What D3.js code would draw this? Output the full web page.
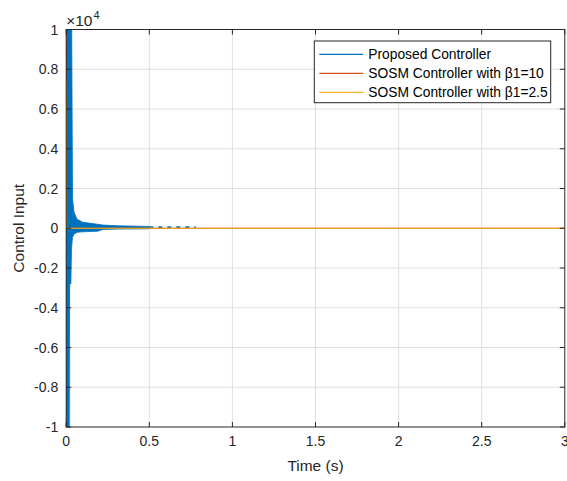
<!DOCTYPE html>
<html>
<head>
<meta charset="utf-8">
<script src="https://cdn.jsdelivr.net/npm/d3@7"></script>
<style>
  body { margin: 0; background: #fff; }
  svg { font-family: "Liberation Sans", Arial, Helvetica, sans-serif; }
</style>
</head>
<body>
<svg id="chart" width="567" height="481"></svg>
<script>
// values in units of 1e4
const xTicks = [0, 0.5, 1, 1.5, 2, 2.5, 3];
const xTickLabels = ["0", "0.5", "1", "1.5", "2", "2.5", "3"];
const yTicks = [-1, -0.8, -0.6, -0.4, -0.2, 0, 0.2, 0.4, 0.6, 0.8, 1];
const yTickLabels = ["-1", "-0.8", "-0.6", "-0.4", "-0.2", "0", "0.2", "0.4", "0.6", "0.8", "1"];

// proposed controller: chattering band, upper / lower envelope
const blueT     = [0,    0.016, 0.02,  0.028, 0.032, 0.038, 0.047, 0.065, 0.10,  0.19,  0.22,   0.32,  0.50];
const blueUpper = [1.2,  1.2,   1.2,   1.2,   1.2,   0.15,  0.08,  0.045, 0.03,  0.02,  0.016,  0.012, 0.009];
const blueLower = [-1.2, -1.2,  -0.28, -0.28, -0.1,  -0.045,-0.03, -0.02, -0.018,-0.015,-0.006, -0.004,-0.003];
// a thinner spike part that still reaches the limits
const blueSpikeT     = [0.004, 0.016];
const blueSpikeLower = [-1.2, -1.2];
// lighter (sparser) edge of the spike
const blueFaintT = [0.018, 0.024];
const blueFaintV = [-1.2, 1.2];
// dashed remnant of the chattering
const blueTailT = [0.5, 0.78];
const blueTailV = [0.005, 0.005];

// SOSM controllers: fast drop at t = 0, then flat at zero
const redT = [0, 0.002, 3];
const redV = [2, 0, 0];
const yellowT = [0, 0.002, 3];
const yellowV = [0.75, 0, 0];

const legendNames = ["Proposed Controller", "SOSM Controller with \u03b21=10", "SOSM Controller with \u03b21=2.5"];
const colors = ["#0072BD", "#D95319", "#EDB120"];

const svg = d3.select("#chart");
const pLeft = 66.2, pRight = 564.8, pTop = 29.5, pBottom = 427;
const x = d3.scaleLinear().domain([0, 3]).range([pLeft, pRight]);
const y = d3.scaleLinear().domain([-1, 1]).range([pBottom, pTop]);
const axisColor = "#262626";

svg.append("defs").append("clipPath").attr("id", "clip")
  .append("rect").attr("x", pLeft).attr("y", pTop)
  .attr("width", pRight - pLeft).attr("height", pBottom - pTop);

// grid
const grid = svg.append("g").attr("stroke", "#dfdfdf").attr("stroke-width", 1);
xTicks.slice(1, -1).forEach(t => {
  grid.append("line").attr("x1", x(t)).attr("x2", x(t)).attr("y1", pTop).attr("y2", pBottom);
});
yTicks.slice(1, -1).forEach(t => {
  grid.append("line").attr("x1", pLeft).attr("x2", pRight).attr("y1", y(t)).attr("y2", y(t));
});

const plot = svg.append("g").attr("clip-path", "url(#clip)");

// blue band
plot.append("rect")
  .attr("x", x(blueFaintT[0])).attr("width", x(blueFaintT[1]) - x(blueFaintT[0]))
  .attr("y", y(blueFaintV[1])).attr("height", y(blueFaintV[0]) - y(blueFaintV[1]))
  .attr("fill", "#6aa9d8");

const blueData = blueT.map((t, i) => ({t: t, hi: blueUpper[i], lo: blueLower[i]}));
plot.append("path")
  .datum(blueData)
  .attr("fill", colors[0])
  .attr("stroke", colors[0])
  .attr("stroke-width", 0.8)
  .attr("d", d3.area().x(d => x(d.t)).y0(d => y(d.lo)).y1(d => y(d.hi)));

plot.append("rect")
  .attr("x", x(blueSpikeT[0])).attr("width", x(blueSpikeT[1]) - x(blueSpikeT[0]))
  .attr("y", y(0)).attr("height", y(blueSpikeLower[0]) - y(0))
  .attr("fill", colors[0]);

plot.append("path")
  .datum(blueTailT.map((t, i) => [t, blueTailV[i]]))
  .attr("fill", "none")
  .attr("stroke", colors[0])
  .attr("stroke-width", 2)
  .attr("stroke-dasharray", "4,5")
  .attr("d", d3.line().x(d => x(d[0])).y(d => y(d[1])));

const line = d3.line().x(d => x(d[0])).y(d => y(d[1]));
plot.append("path")
  .datum(redT.map((t, i) => [t, redV[i]]))
  .attr("fill", "none").attr("stroke", colors[1]).attr("stroke-width", 1.2)
  .attr("d", line);
plot.append("path")
  .datum(yellowT.map((t, i) => [t, yellowV[i]]))
  .attr("fill", "none").attr("stroke", colors[2]).attr("stroke-width", 1.2)
  .attr("d", line);

// box + ticks
const ax = svg.append("g").attr("stroke", axisColor).attr("stroke-width", 1);
ax.append("rect").attr("x", pLeft).attr("y", pTop)
  .attr("width", pRight - pLeft).attr("height", pBottom - pTop).attr("fill", "none");
const tl = 5;
xTicks.forEach(t => {
  ax.append("line").attr("x1", x(t)).attr("x2", x(t)).attr("y1", pBottom).attr("y2", pBottom - tl);
  ax.append("line").attr("x1", x(t)).attr("x2", x(t)).attr("y1", pTop).attr("y2", pTop + tl);
});
yTicks.forEach(t => {
  ax.append("line").attr("x1", pLeft).attr("x2", pLeft + tl).attr("y1", y(t)).attr("y2", y(t));
  ax.append("line").attr("x1", pRight).attr("x2", pRight - tl).attr("y1", y(t)).attr("y2", y(t));
});

// tick labels
svg.append("g").selectAll("text").data(xTicks).enter().append("text")
  .attr("x", d => x(d)).attr("y", pBottom + 19)
  .attr("text-anchor", "middle").attr("font-size", 14).attr("fill", axisColor)
  .text((d, i) => xTickLabels[i]);
svg.append("g").selectAll("text").data(yTicks).enter().append("text")
  .attr("x", pLeft - 8).attr("y", d => y(d) + 5)
  .attr("text-anchor", "end").attr("font-size", 14).attr("fill", axisColor)
  .text((d, i) => yTickLabels[i]);

// exponent
const ex = svg.append("text").attr("x", pLeft).attr("y", 25.5).attr("fill", axisColor).attr("font-size", 15.5);
ex.append("tspan").text("\u00d710");
ex.append("tspan").attr("dy", -7).attr("dx", 1).attr("font-size", 11).text("4");

// axis labels
svg.append("text").attr("x", (pLeft + pRight) / 2).attr("y", 471)
  .attr("text-anchor", "middle").attr("font-size", 15.5).attr("fill", axisColor)
  .text("Time (s)");
svg.append("text").attr("transform", `translate(24,${(pTop + pBottom) / 2}) rotate(-90)`)
  .attr("text-anchor", "middle").attr("font-size", 15.5).attr("fill", axisColor)
  .text("Control Input");

// legend
const lg = svg.append("g").attr("transform", "translate(314.3,41)");
lg.append("rect").attr("width", 236.4).attr("height", 61.7)
  .attr("fill", "#fff").attr("stroke", axisColor).attr("stroke-width", 1);
legendNames.forEach((name, i) => {
  const yy = 13.3 + i * 19;
  lg.append("line").attr("x1", 5).attr("x2", 49).attr("y1", yy).attr("y2", yy)
    .attr("stroke", colors[i]).attr("stroke-width", 1.2);
  lg.append("text").attr("x", 54).attr("y", yy + 5)
    .attr("font-size", 13.8).attr("fill", "#000").text(name);
});
</script>
</body>
</html>
